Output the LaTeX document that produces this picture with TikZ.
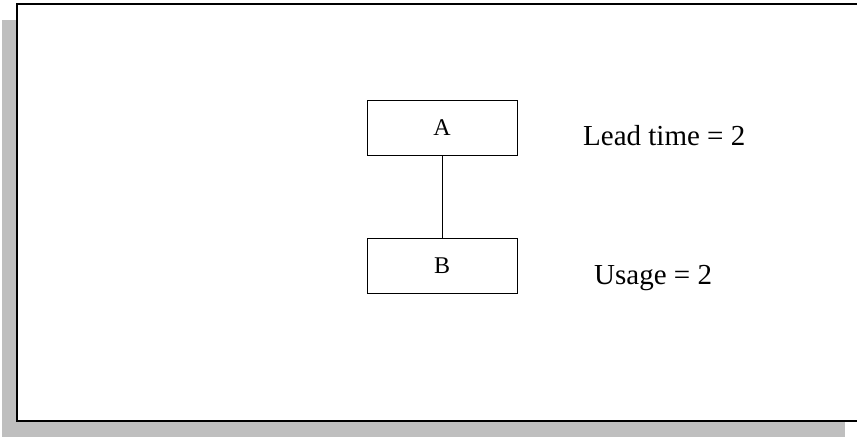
\documentclass[tikz,border=0pt]{standalone}
\usepackage{fontspec}
\setmainfont{Liberation Serif}
\begin{document}
\begin{tikzpicture}[x=1pt,y=-1pt,
  box/.style={draw=black,line width=1pt,minimum width=150pt,minimum height=55pt,inner sep=0pt,font=\fontsize{24}{26}\selectfont},
  lbl/.style={anchor=base west,inner sep=0pt,font=\fontsize{29}{32}\selectfont},
  conn/.style={draw=black,line width=1pt}]
\useasboundingbox (0,0) rectangle (857,440);
\fill[gray!50] (2,20) rectangle (845,437);
\fill[white] (17,4) rectangle (856,421);
\draw[line width=2.5pt] (857,4) -- (17,4) -- (17,421) -- (857,421);
\node[box] (a) at (442,128) {A};
\node[box] (b) at (442,265.5) {B};
\draw[conn] (a) -- (b);
\node[lbl] (lt) at (583,145) {Lead time = 2};
\node[lbl] (us) at (594,284) {Usage = 2};
\end{tikzpicture}
\end{document}
